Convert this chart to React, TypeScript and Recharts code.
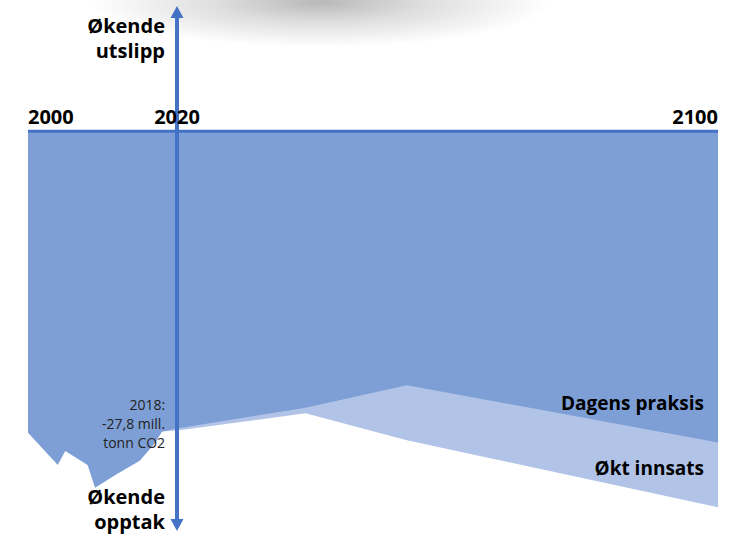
import React from "react";
import {
  AreaChart,
  Area,
  XAxis,
  YAxis,
  ReferenceLine,
  ReferenceDot,
} from "recharts";

// Netto opptak (mill. tonn CO2-ekv.), historikk + fremskrivninger
const years = [2000, 2004, 2005, 2008, 2009, 2012, 2015, 2017, 2018, 2020, 2039, 2054, 2100];
const dagensPraksis = [-27.9, -30.9, -29.6, -30.9, -33.0, -31.7, -30.5, -28.9, -27.8, -27.5, -25.6, -23.5, -28.8];
const oktInnsats = [null, null, null, null, null, null, null, null, -27.8, -27.7, -26.1, -28.6, -34.8];
const yearTicks = [2000, 2020, 2100];

const annotationYear = 2018;
const annotationLines = ["2018:", "-27,8 mill.", "tonn CO2"];
const upLabel = ["Økende", "utslipp"];
const downLabel = ["Økende", "opptak"];

const data = years.map((year, i) => ({
  year,
  dagens: dagensPraksis[i],
  okt: oktInnsats[i],
}));

const BLUE = "#4472C4";
const DARK = "#7E9FD6";
const LIGHT = "#B1C4E7";
const FONT = "'Open Sans', sans-serif";

// the timeline is drawn wider after 2020 than before it
const PIVOT_YEAR = 2020;
const PIVOT_SHARE = 149 / 690;

function pivotScale(dom: number[] = [2000, 2100], rng: number[] = [0, 1]) {
  let domain = dom.map(Number);
  let range = rng.map(Number);
  const scale: any = (v: number) => {
    const [d0, d1] = domain;
    const [r0, r1] = range;
    const t =
      v <= PIVOT_YEAR
        ? ((v - d0) / (PIVOT_YEAR - d0)) * PIVOT_SHARE
        : PIVOT_SHARE + ((v - PIVOT_YEAR) / (d1 - PIVOT_YEAR)) * (1 - PIVOT_SHARE);
    return r0 + t * (r1 - r0);
  };
  scale.domain = (d?: number[]) => {
    if (d === undefined) return domain;
    domain = d.map(Number);
    return scale;
  };
  scale.range = (r?: number[]) => {
    if (r === undefined) return range;
    range = r.map(Number);
    return scale;
  };
  scale.copy = () => pivotScale(domain, range);
  scale.ticks = () => yearTicks;
  return scale;
}

const Arrow = (props: any) => {
  const { x1, y1, y2 } = props;
  const top = Math.min(y1, y2);
  const bottom = Math.max(y1, y2);
  const head = 12;
  const half = 6.5;
  return (
    <g>
      <line x1={x1} x2={x1} y1={top + head - 1} y2={bottom - head + 1} stroke={BLUE} strokeWidth={4} />
      <polygon points={`${x1},${top} ${x1 - half},${top + head} ${x1 + half},${top + head}`} fill={BLUE} />
      <polygon points={`${x1},${bottom} ${x1 - half},${bottom - head} ${x1 + half},${bottom - head}`} fill={BLUE} />
      <text x={x1 - 12} y={top + 27} textAnchor="end" fontFamily={FONT} fontWeight={700} fontSize={20} fill="#000">
        {upLabel[0]}
      </text>
      <text x={x1 - 12} y={top + 52} textAnchor="end" fontFamily={FONT} fontWeight={700} fontSize={20} fill="#000">
        {upLabel[1]}
      </text>
      <text x={x1 - 12} y={bottom - 27} textAnchor="end" fontFamily={FONT} fontWeight={700} fontSize={20} fill="#000">
        {downLabel[0]}
      </text>
      <text x={x1 - 12} y={bottom - 2} textAnchor="end" fontFamily={FONT} fontWeight={700} fontSize={20} fill="#000">
        {downLabel[1]}
      </text>
    </g>
  );
};

const yearLabel = (year: number) => (props: any) => {
  const { x, y } = props.viewBox;
  const anchor = year === yearTicks[0] ? "start" : year === yearTicks[yearTicks.length - 1] ? "end" : "middle";
  return (
    <text x={x} y={y - 7} textAnchor={anchor} fontFamily={FONT} fontWeight={700} fontSize={20} fill="#000">
      {year}
    </text>
  );
};

const seriesLabel = (name: string) => (props: any) => {
  const { x, y } = props.viewBox;
  return (
    <text x={x - 14} y={y - 32} textAnchor="end" fontFamily={FONT} fontWeight={700} fontSize={19} fill="#000">
      {name}
    </text>
  );
};

const annotation = (props: any) => {
  const { x, y } = props.viewBox;
  return (
    <text textAnchor="end" fontFamily={FONT} fontSize={14} fill="#222">
      {annotationLines.map((line, i) => (
        <tspan key={i} x={x + 3} y={y - 22 + i * 19}>
          {line}
        </tspan>
      ))}
    </text>
  );
};

export default function App() {
  const last = data[data.length - 1];
  return (
    <div style={{ position: "absolute", left: 0, top: 0, width: 746, height: 536, background: "#fff", overflow: "hidden" }}>
      <div
        style={{
          position: "absolute",
          left: 0,
          top: 0,
          width: 746,
          height: 60,
          background:
            "radial-gradient(ellipse 230px 45px at 320px 2px, rgba(0,0,0,0.28) 0%, rgba(0,0,0,0.13) 45%, rgba(0,0,0,0) 100%)",
        }}
      />
      <div style={{ position: "absolute", left: 0, top: 0 }}>
        <AreaChart width={746} height={536} data={data} margin={{ top: 6, right: 28, bottom: 5, left: 28 }}>
          <XAxis dataKey="year" type="number" domain={[2000, 2100]} scale={pivotScale()} ticks={yearTicks} hide />
          <YAxis type="number" domain={[-37, 11.6]} hide />
          <Area
            type="linear"
            dataKey="okt"
            name="Økt innsats"
            fill={LIGHT}
            fillOpacity={1}
            stroke="none"
            baseValue={0}
            isAnimationActive={false}
          />
          <Area
            type="linear"
            dataKey="dagens"
            name="Dagens praksis"
            fill={DARK}
            fillOpacity={1}
            stroke="none"
            baseValue={0}
            isAnimationActive={false}
          />
          <ReferenceLine y={0} stroke={BLUE} strokeWidth={3} />
          <ReferenceLine x={PIVOT_YEAR} shape={Arrow} />
          {yearTicks.map((yr) => (
            <ReferenceDot key={yr} x={yr} y={0} r={0} fill="none" stroke="none" label={yearLabel(yr)} />
          ))}
          <ReferenceDot x={annotationYear} y={dagensPraksis[years.indexOf(annotationYear)]} r={0} fill="none" stroke="none" label={annotation} />
          <ReferenceDot x={last.year} y={last.dagens} r={0} fill="none" stroke="none" label={seriesLabel("Dagens praksis")} />
          <ReferenceDot x={last.year} y={last.okt as number} r={0} fill="none" stroke="none" label={seriesLabel("Økt innsats")} />
        </AreaChart>
      </div>
    </div>
  );
}
